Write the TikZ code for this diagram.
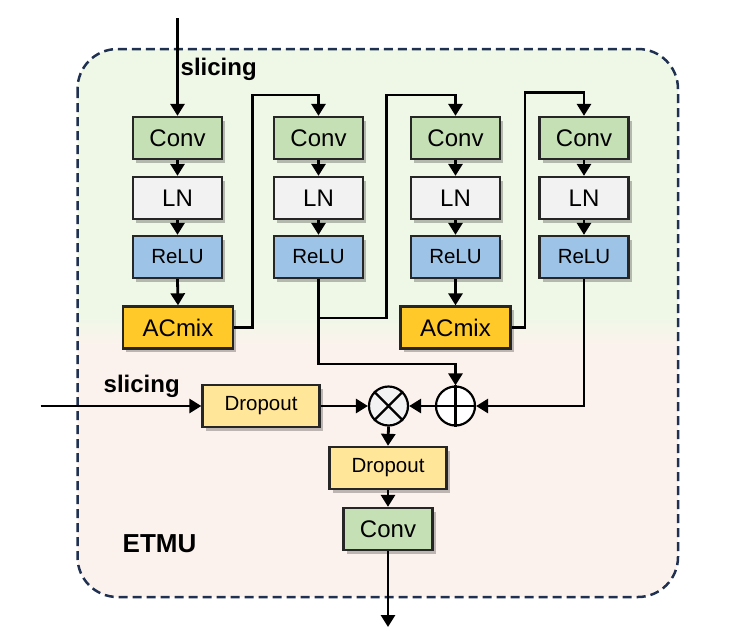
\documentclass[tikz,border=0pt]{standalone}
\usepackage{fontspec}
\setmainfont{Liberation Sans}
\usetikzlibrary{arrows.meta,shadows,calc}
\definecolor{convc}{HTML}{C5E0B4}
\definecolor{lnc}{HTML}{F2F2F2}
\definecolor{reluc}{HTML}{9DC3E6}
\definecolor{acmixc}{HTML}{FFC929}
\definecolor{dropc}{HTML}{FFE699}
\definecolor{bordc}{HTML}{262626}
\definecolor{dashc}{HTML}{1F3050}
\definecolor{bggreen}{HTML}{EFF8E7}
\definecolor{bgpeach}{HTML}{FCF2ED}
\tikzset{
  blk/.style={draw=bordc, line width=2.3pt, minimum width=89pt, minimum height=42pt, inner sep=0pt,
    drop shadow={shadow xshift=3pt, shadow yshift=-3.5pt, opacity=0.25, fill=black}},
  convbox/.style={blk, fill=convc, font=\fontsize{24}{28}\selectfont},
  lnbox/.style={blk, fill=lnc, font=\fontsize{24}{28}\selectfont},
  relubox/.style={blk, fill=reluc, font=\fontsize{20.5}{24}\selectfont},
  acbox/.style={blk, fill=acmixc, minimum width=110pt, font=\fontsize{24}{28}\selectfont},
  dropbox/.style={blk, fill=dropc, minimum width=117pt, font=\fontsize{20.5}{24}\selectfont},
  opnode/.style={circle, draw=black, line width=2.2pt, minimum size=39pt, inner sep=0pt},
  arr/.style={line width=2.8pt, -{Triangle[length=12pt,width=14pt]}},
  lbl/.style={font=\bfseries\fontsize{24}{28}\selectfont, anchor=base west, inner sep=0pt},
}
\begin{document}
\begin{tikzpicture}[x=1pt,y=-1pt]
\useasboundingbox (0,0) rectangle (740,638);
% background
\begin{scope}
  \clip[rounded corners=40pt] (77.5,49) rectangle (678,597);
  \fill[bggreen] (70,40) rectangle (690,318);
  \fill[bgpeach] (70,345) rectangle (690,610);
  \shade[top color=bggreen, bottom color=bgpeach] (70,317) rectangle (690,346);
\end{scope}
\draw[dashc, line width=2.5pt, dash pattern=on 9pt off 5pt, rounded corners=40pt] (77.5,49) rectangle (678,597);

% column 1
\node[convbox] (conv1) at (177.5,138) {Conv};
\node[lnbox]   (ln1)   at (177.5,198) {LN};
\node[relubox] (relu1) at (177.5,257) {ReLU};
\node[acbox]   (ac1)   at (178,327.5) {ACmix};
% column 2
\node[convbox] (conv2) at (318.5,138) {Conv};
\node[lnbox]   (ln2)   at (318.5,198) {LN};
\node[relubox] (relu2) at (318.5,257) {ReLU};
% column 3
\node[convbox] (conv3) at (455.5,138) {Conv};
\node[lnbox]   (ln3)   at (455.5,198) {LN};
\node[relubox] (relu3) at (455.5,257) {ReLU};
\node[acbox]   (ac2)   at (455.5,327.5) {ACmix};
% column 4
\node[convbox] (conv4) at (584,138) {Conv};
\node[lnbox]   (ln4)   at (584,198) {LN};
\node[relubox] (relu4) at (584,257) {ReLU};

% bottom part
\node[dropbox] (drop1) at (261,406) {Dropout};
\node[opnode, fill=lnc] (times) at (388.5,406) {};
\node[opnode, fill=white] (plus) at (455.5,406) {};
\draw[line width=2.2pt] (times.45) -- (times.225) (times.135) -- (times.315);
\draw[line width=2.2pt] (plus.north) -- (plus.south) (plus.east) -- (plus.west);
\node[dropbox] (drop2) at (388,468) {Dropout};
\node[convbox] (conv5) at (388,529) {Conv};

% labels
\node[lbl] (sl1) at (180.5,75.5) {slicing};
\node[lbl] (sl2) at (103.5,392) {slicing};
\node[lbl, font=\bfseries\fontsize{26}{30}\selectfont] (etmu) at (122.5,552.5) {ETMU};

% coordinates
\coordinate (in1) at (177.5,18);
\coordinate (in2) at (40.5,406);
\coordinate (out) at (388,627);
\coordinate (k1) at (252.7,95);
\coordinate (k2a) at (386.7,318);
\coordinate (k2b) at (386.7,95);
\coordinate (k3) at (525,92.5);
\coordinate (k4) at (318.5,364);

% connectors
\draw[arr] (in1) -- (conv1.north);
\foreach \c in {1,2,3,4}{
  \draw[arr] (conv\c.south) -- (ln\c.north);
  \draw[arr] (ln\c.south) -- (relu\c.north);
}
\draw[arr] (relu1.south) -- (ac1.north);
\draw[arr] (relu3.south) -- (ac2.north);
\draw[arr] (ac1.east) -| (k1) -| (conv2.north);
\draw[arr] (relu2.south) |- (k2a) -- (k2b) -| (conv3.north);
\draw[arr] (relu2.south) -- (k4) -| (plus.north);
\draw[arr] (ac2.east) -| (k3) -| (conv4.north);
\draw[arr] (relu4.south) |- (plus.east);
\draw[arr] (in2) -- (drop1.west);
\draw[arr] (drop1.east) -- (times.west);
\draw[arr] (plus.west) -- (times.east);
\draw[arr] (times.south) -- (drop2.north);
\draw[arr] (drop2.south) -- (conv5.north);
\draw[arr] (conv5.south) -- (out);
\end{tikzpicture}
\end{document}
